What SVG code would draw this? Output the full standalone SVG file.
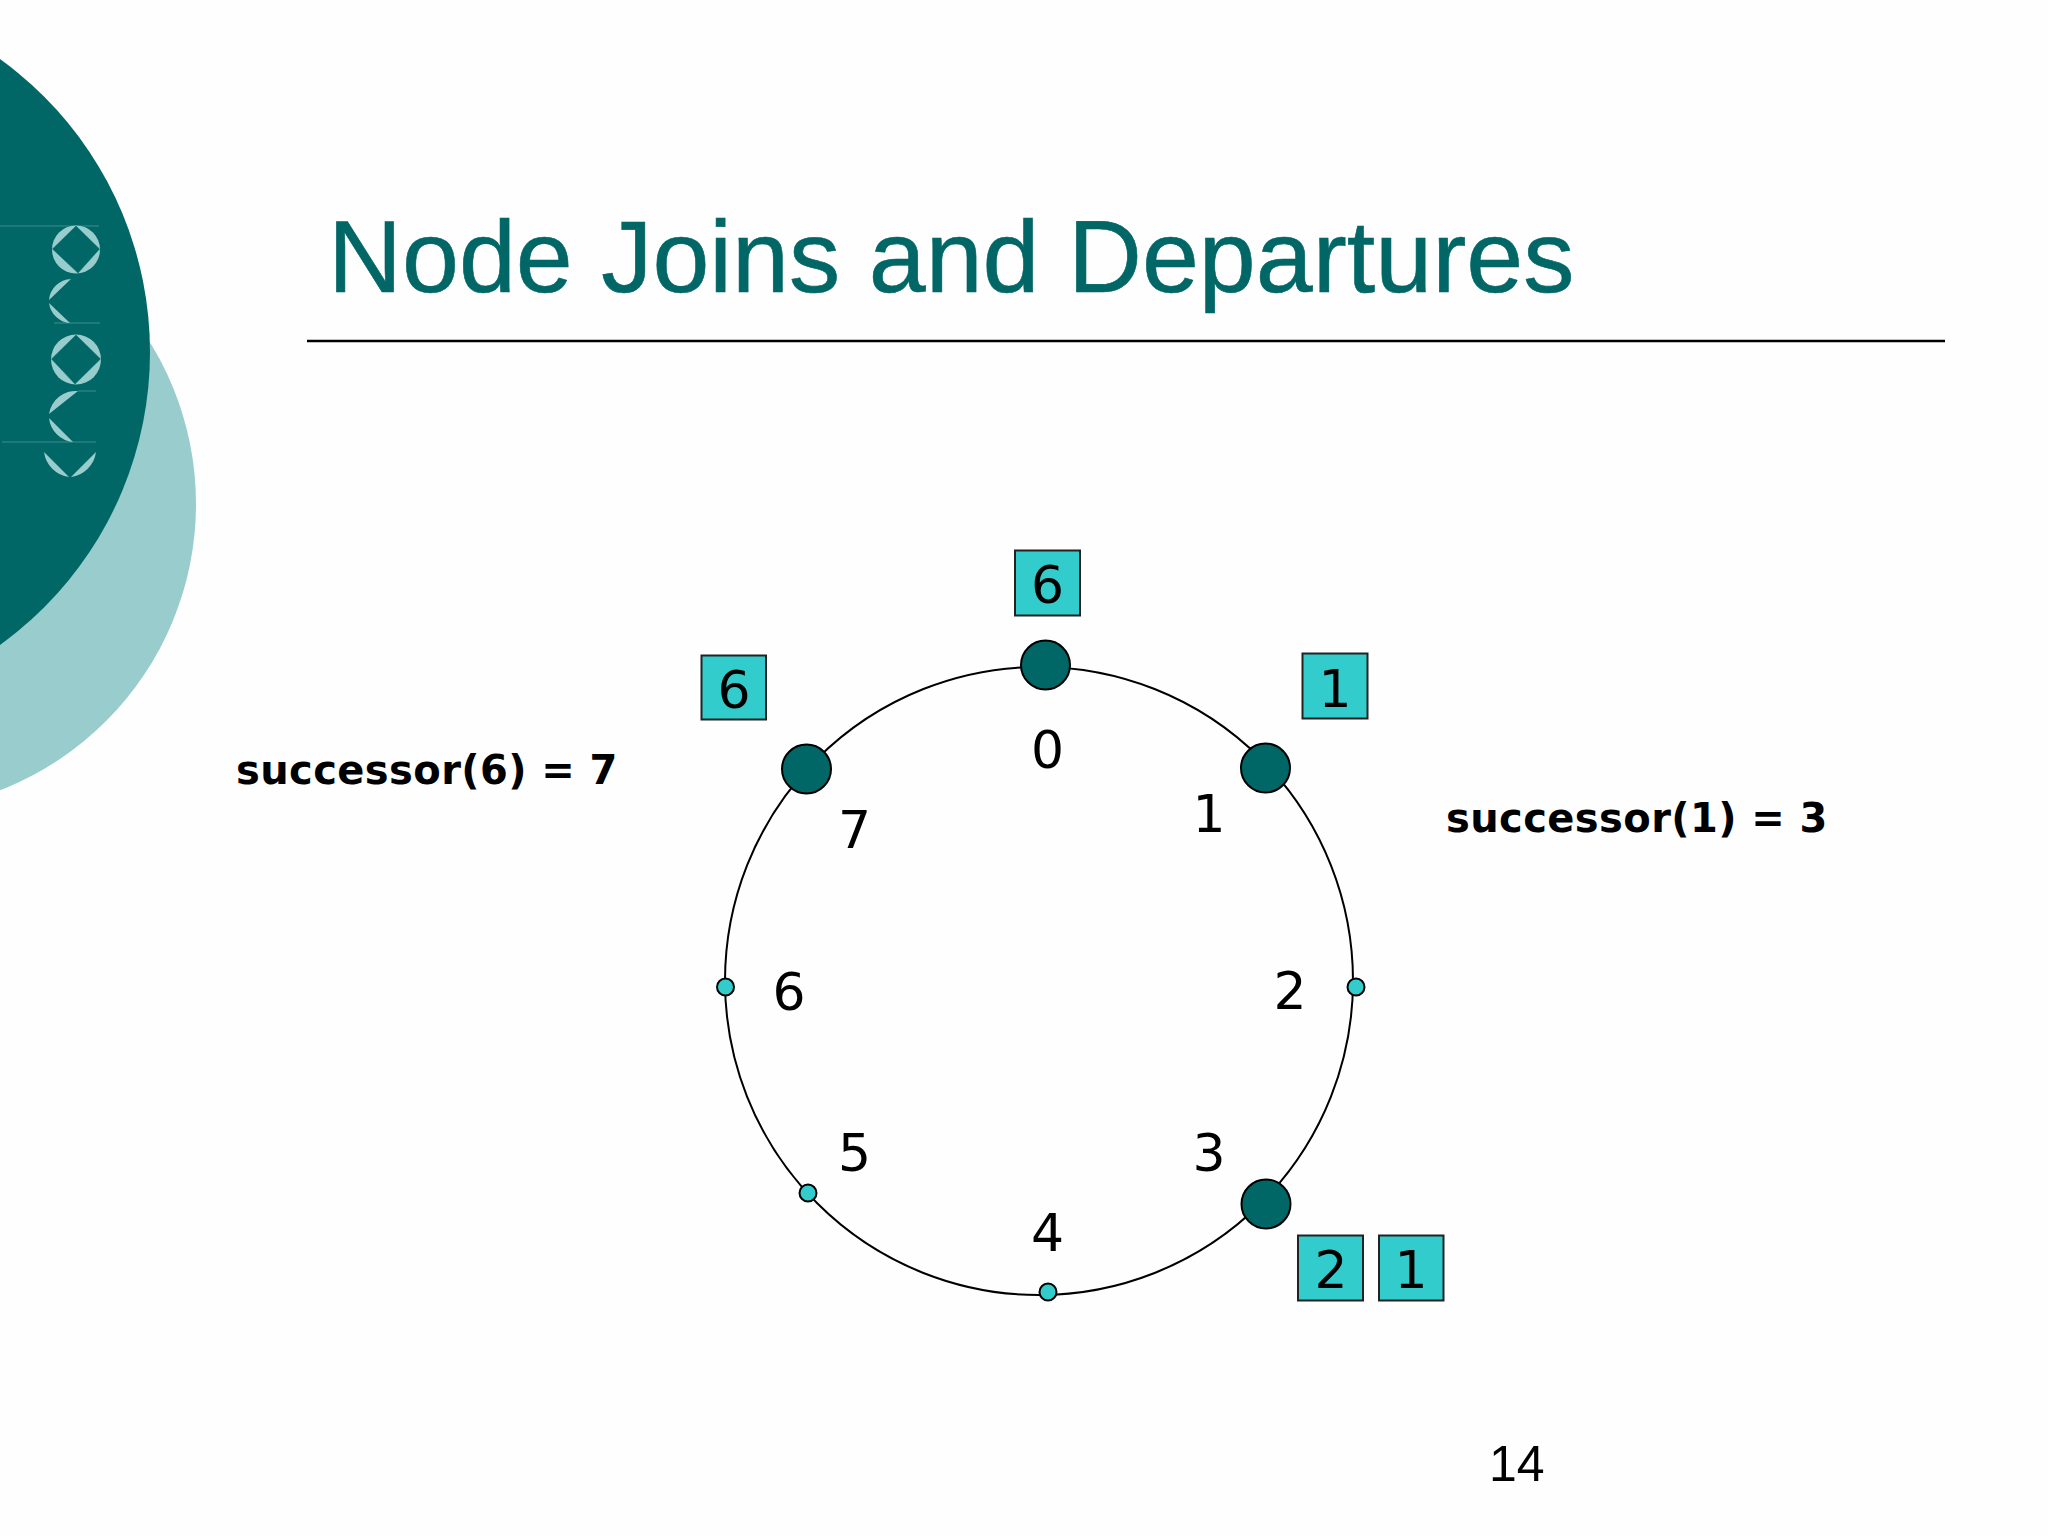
<svg xmlns="http://www.w3.org/2000/svg" width="2048" height="1536" viewBox="0 0 2048 1536">
<style>
.big{fill:#006666;stroke:#000;stroke-width:2}
.small{fill:#33CCCC;stroke:#000;stroke-width:2}
.box{fill:#33CCCC;stroke:#222;stroke-width:2}
.num{font-family:"DejaVu Sans",Verdana,sans-serif;font-size:52px;fill:#000;text-anchor:middle}
.bold{font-family:"DejaVu Sans","Liberation Sans",sans-serif;font-size:40px;font-weight:bold;fill:#000;letter-spacing:.4px}
.lt{fill:#99CCCC}
.dk{fill:#006666;stroke:#006666;stroke-width:.5}
.fl{stroke:#3d8c8c;stroke-width:1;fill:none}
</style>
<rect width="2048" height="1536" fill="#fefefe"/>
<g id="background">
<circle cx="-111" cy="504" r="307" fill="#99CCCC"/>
<circle cx="-211" cy="352" r="361" fill="#006666"/>
<path class="fl" d="M0 226H99M54 323H100M78 391H96M2 442H96"/>
<circle class="lt" cx="76" cy="249.500" r="24"/>
<polygon class="dk" points="76,226 99.500,249 78,273 52.500,249"/>
<path class="lt" d="M71 279A23 23 0 0 0 49 300ZM49 303A23 23 0 0 0 70 323Z"/>
<circle class="lt" cx="76" cy="359.500" r="25"/>
<polygon class="dk" points="76,335 100.500,359 75,384 51.500,359"/>
<path class="lt" d="M78 391A27 27 0 0 0 49 414ZM49 418A27 27 0 0 0 73 442Z"/>
<path class="lt" d="M44 452A29 29 0 0 0 69 477ZM71 477A29 29 0 0 0 96 452Z"/>
</g>
<text id="title" x="328" y="292" font-family="'Liberation Sans',Arial,sans-serif" font-size="102.400" fill="#006666" stroke="#006666" stroke-width=".6">Node Joins and Departures</text>
<line id="title-rule" x1="307" y1="341" x2="1945" y2="341" stroke="#000" stroke-width="2.500"/>
<g id="connectors">
<circle cx="1039" cy="981" r="314" fill="none" stroke="#000" stroke-width="2"/>
</g>
<g id="node-0"><circle class="big" cx="1045.500" cy="665" r="24.500"/><text class="num" x="1047.500" y="768">0</text></g>
<g id="node-1"><circle class="big" cx="1265.500" cy="768" r="24.500"/><text class="num" x="1209" y="832">1</text></g>
<g id="node-2"><circle class="small" cx="1356" cy="987" r="8.500"/><text class="num" x="1290" y="1009">2</text></g>
<g id="node-3"><circle class="big" cx="1266" cy="1204" r="24.500"/><text class="num" x="1209" y="1171">3</text></g>
<g id="node-4"><circle class="small" cx="1048" cy="1292" r="8.500"/><text class="num" x="1047.500" y="1251">4</text></g>
<g id="node-5"><circle class="small" cx="808" cy="1193" r="8.500"/><text class="num" x="854.500" y="1171">5</text></g>
<g id="node-6"><circle class="small" cx="725.500" cy="987" r="8.500"/><text class="num" x="789" y="1010">6</text></g>
<g id="node-7"><circle class="big" cx="806.500" cy="769" r="24.500"/><text class="num" x="854.500" y="848">7</text></g>
<g id="key-6-top"><rect class="box" x="1015" y="550.500" width="65" height="65"/><text class="num" x="1047.500" y="603">6</text></g>
<g id="key-6-left"><rect class="box" x="701.500" y="655.500" width="64.500" height="64"/><text class="num" x="734" y="708">6</text></g>
<g id="key-1-top"><rect class="box" x="1302.500" y="653.500" width="65" height="65"/><text class="num" x="1335" y="707">1</text></g>
<g id="key-2"><rect class="box" x="1298" y="1235.500" width="65" height="65"/><text class="num" x="1331" y="1288">2</text></g>
<g id="key-1-bottom"><rect class="box" x="1379" y="1235.500" width="64.500" height="65"/><text class="num" x="1411" y="1288">1</text></g>
<text id="succ-6" class="bold" x="236" y="784">successor(6) = 7</text>
<text id="succ-1" class="bold" x="1446" y="832">successor(1) = 3</text>
<text id="page" x="1489" y="1481" font-family="'Liberation Sans',Arial,sans-serif" font-size="50" fill="#000">14</text>
</svg>
